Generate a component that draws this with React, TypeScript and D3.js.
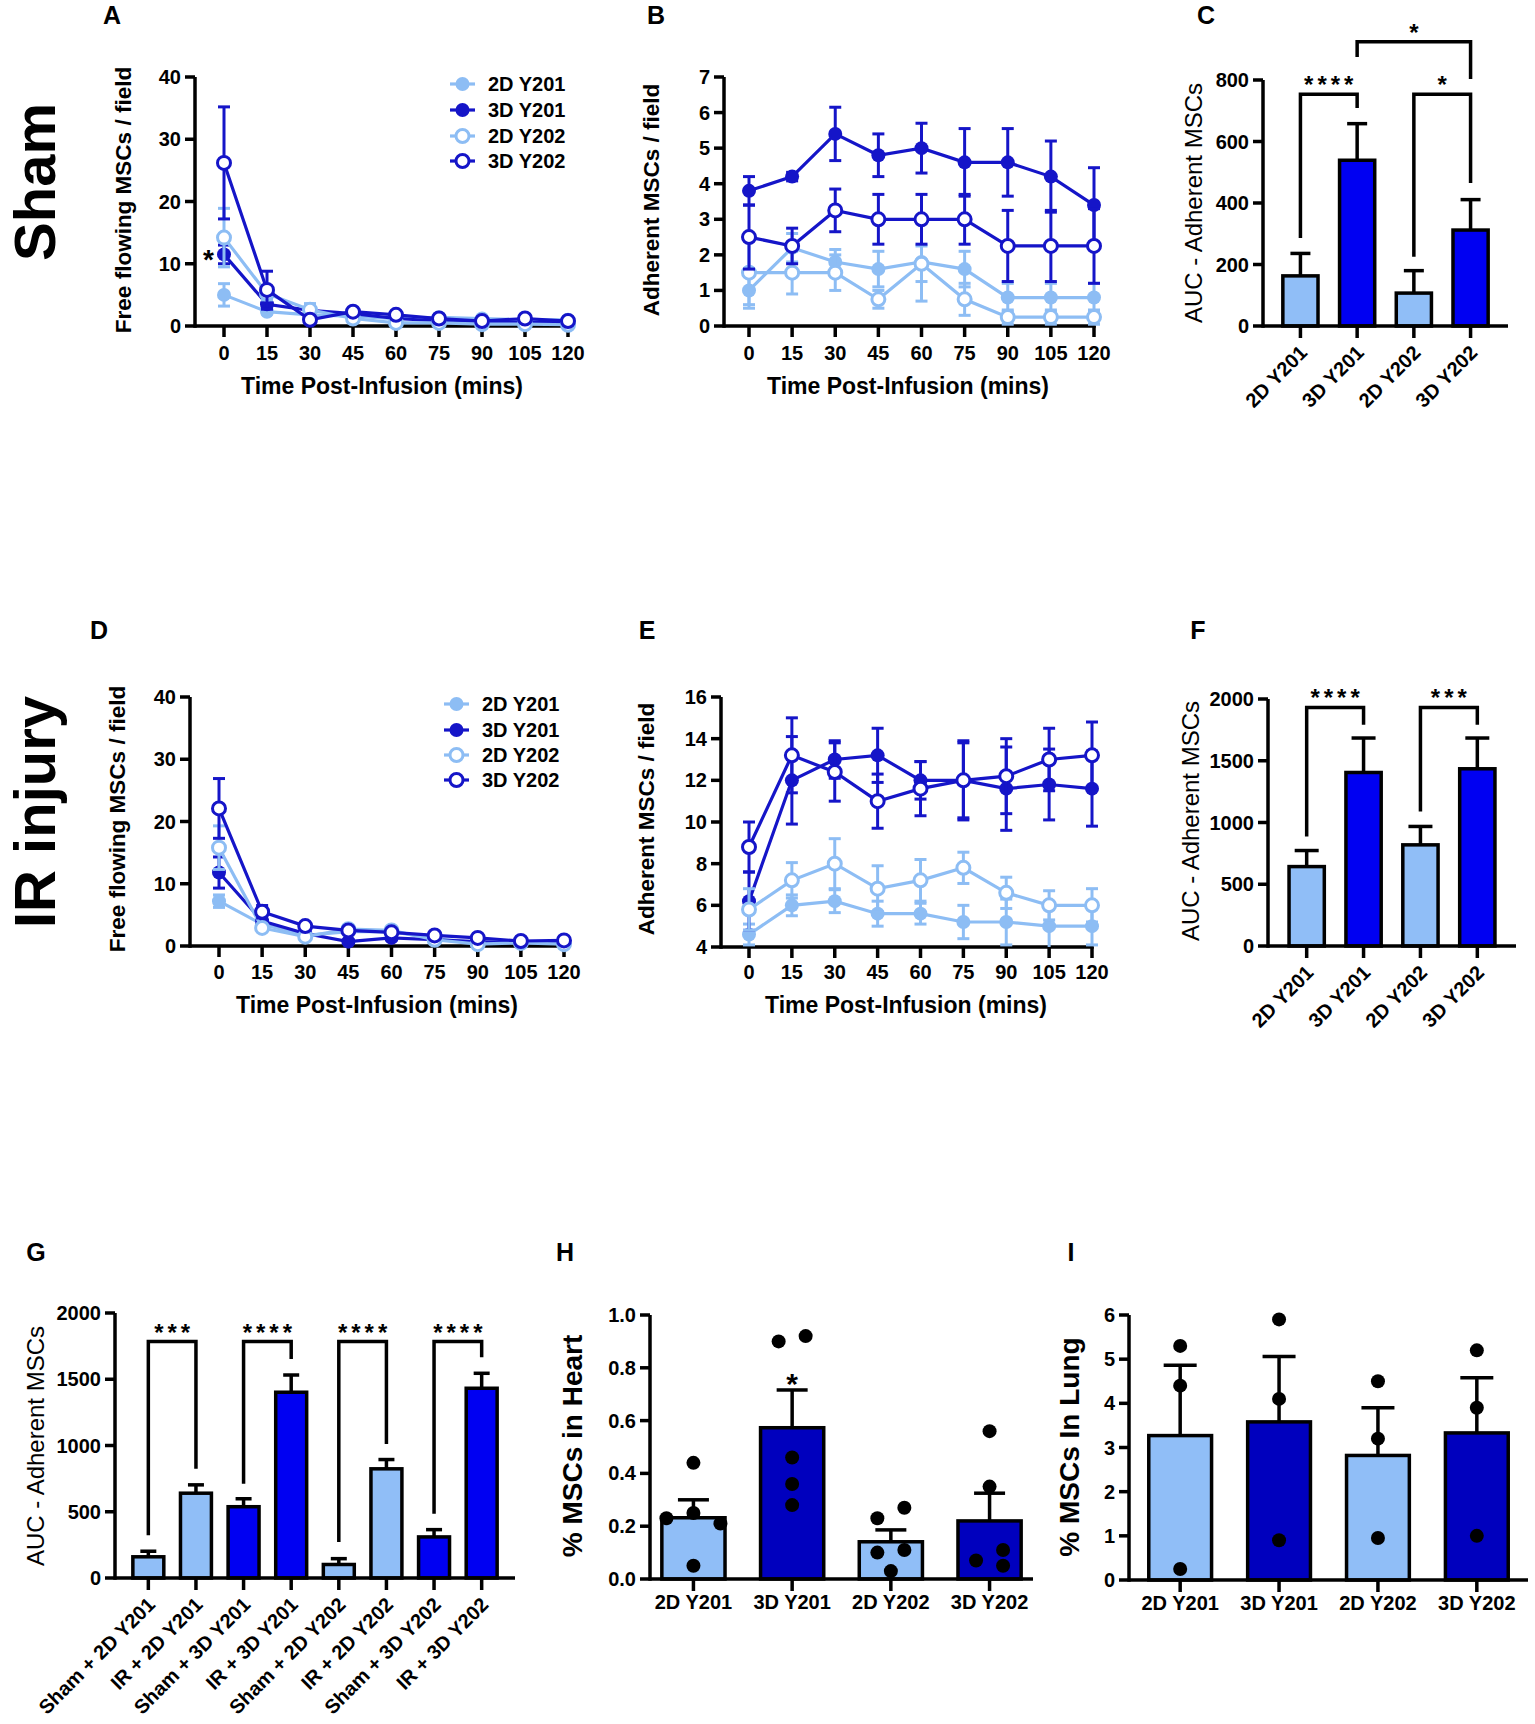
import * as d3 from "d3";

// ---------- data ----------
const times = [0, 15, 30, 45, 60, 75, 90, 105, 120];
const groups = ["2D Y201", "3D Y201", "2D Y202", "3D Y202"];

// A - sham, free flowing MSCs / field
const shamFree2D201 = [5.0, 2.3, 1.8, 1.6, 1.2, 1.4, 1.2, 1.0, 1.0];
const shamFree2D201Sem = [1.8, 0.4, 0.3, 0.3, 0.3, 0.3, 0.2, 0.2, 0.2];
const shamFree3D201 = [11.5, 3.5, 2.5, 2.0, 1.2, 0.8, 0.7, 0.6, 0.5];
const shamFree3D201Sem = [1.5, 0.8, 0.4, 0.3, 0.3, 0.2, 0.2, 0.2, 0.2];
const shamFree2D202 = [14.2, 5.2, 2.6, 1.2, 0.5, 0.5, 0.3, 0.3, 0.2];
const shamFree2D202Sem = [4.7, 1.0, 1.0, 0.4, 0.3, 0.3, 0.2, 0.2, 0.2];
const shamFree3D202 = [26.2, 5.8, 1.0, 2.3, 1.8, 1.2, 0.8, 1.2, 0.8];
const shamFree3D202Sem = [9.0, 3.0, 0.5, 0.4, 0.4, 0.3, 0.3, 0.3, 0.3];

// B - sham, adherent MSCs / field
const shamAdh2D201 = [1.0, 2.2, 1.8, 1.6, 1.8, 1.6, 0.8, 0.8, 0.8];
const shamAdh2D201Sem = [0.5, 0.4, 0.35, 0.5, 1.1, 0.5, 0.4, 0.4, 0.4];
const shamAdh3D201 = [3.8, 4.2, 5.4, 4.8, 5.0, 4.6, 4.6, 4.2, 3.4];
const shamAdh3D201Sem = [0.4, 0.12, 0.75, 0.6, 0.7, 0.95, 0.95, 1.0, 1.05];
const shamAdh2D202 = [1.5, 1.5, 1.5, 0.75, 1.75, 0.75, 0.25, 0.25, 0.25];
const shamAdh2D202Sem = [0.9, 0.6, 0.5, 0.25, 0.5, 0.45, 0.2, 0.2, 0.2];
const shamAdh3D202 = [2.5, 2.25, 3.25, 3.0, 3.0, 3.0, 2.25, 2.25, 2.25];
const shamAdh3D202Sem = [0.9, 0.5, 0.6, 0.7, 0.7, 0.7, 1.0, 1.0, 1.05];

// D - IR injury, free flowing
const irFree2D201 = [7.2, 3.5, 1.7, 2.3, 2.3, 1.2, 0.5, 0.8, 0.3];
const irFree2D201Sem = [1.0, 0.5, 0.3, 0.5, 0.4, 0.3, 0.2, 0.2, 0.2];
const irFree3D201 = [11.8, 4.0, 2.0, 0.7, 1.3, 1.0, 0.7, 0.5, 0.7];
const irFree3D201Sem = [2.5, 0.6, 0.3, 0.3, 0.3, 0.2, 0.2, 0.2, 0.2];
const irFree2D202 = [15.8, 2.9, 1.5, 2.7, 2.5, 1.0, 0.3, 0.5, 0.3];
const irFree2D202Sem = [3.5, 0.5, 0.3, 0.5, 0.4, 0.3, 0.2, 0.2, 0.2];
const irFree3D202 = [22.1, 5.5, 3.2, 2.5, 2.2, 1.7, 1.3, 0.8, 0.9];
const irFree3D202Sem = [4.8, 1.0, 0.4, 0.4, 0.3, 0.3, 0.3, 0.2, 0.2];

// E - IR injury, adherent
const irAdh2D201 = [4.6, 6.0, 6.2, 5.6, 5.6, 5.2, 5.2, 5.0, 5.0];
const irAdh2D201Sem = [0.5, 0.5, 0.55, 0.6, 0.5, 0.8, 1.1, 1.0, 0.9];
const irAdh3D201 = [6.2, 12.0, 13.0, 13.2, 12.0, 12.0, 11.6, 11.8, 11.6];
const irAdh3D201Sem = [1.4, 2.1, 0.9, 1.3, 0.9, 1.9, 2.0, 1.7, 1.8];
const irAdh2D202 = [5.8, 7.2, 8.0, 6.8, 7.2, 7.8, 6.6, 6.0, 6.0];
const irAdh2D202Sem = [1.0, 0.85, 1.2, 1.1, 1.0, 0.75, 0.75, 0.7, 0.8];
const irAdh3D202 = [8.8, 13.2, 12.4, 11.0, 11.6, 12.0, 12.2, 13.0, 13.2];
const irAdh3D202Sem = [1.2, 1.8, 1.4, 1.3, 1.3, 1.8, 1.8, 1.5, 1.6];

// C / F - AUC
const shamAuc = [163, 539, 107, 312];
const shamAucSem = [73, 119, 73, 99];
const irAuc = [643, 1405, 819, 1435];
const irAucSem = [130, 279, 149, 249];

// G - pooled AUC
const pooledLabels = [
  "Sham + 2D Y201", "IR + 2D Y201", "Sham + 3D Y201", "IR + 3D Y201",
  "Sham + 2D Y202", "IR + 2D Y202", "Sham + 3D Y202", "IR + 3D Y202",
];
const pooledAuc = [160, 640, 538, 1402, 102, 824, 310, 1432];
const pooledAucSem = [42, 63, 60, 130, 44, 70, 55, 113];

// H - % in heart
const heartMean = [0.232, 0.573, 0.141, 0.22];
const heartSem = [0.068, 0.143, 0.045, 0.105];
const heart2D201 = [0.44, 0.25, 0.23, 0.21, 0.05];
const heart3D201 = [0.92, 0.9, 0.46, 0.36, 0.28];
const heart2D202 = [0.27, 0.23, 0.11, 0.1, 0.03];
const heart3D202 = [0.56, 0.35, 0.11, 0.07, 0.05];

// I - % in lung
const lungMean = [3.27, 3.58, 2.82, 3.33];
const lungSem = [1.59, 1.48, 1.08, 1.25];
const lung2D201 = [5.3, 4.4, 0.25];
const lung3D201 = [5.9, 4.1, 0.9];
const lung2D202 = [4.5, 3.2, 0.95];
const lung3D202 = [5.2, 3.9, 1.0];

// significance brackets: [from, to, bracket value, left leg end, right leg end, label]
const shamBrackets: [number, number, number, number, number, string][] = [
  [0, 1, 754, 286, 709, "****"],
  [2, 3, 754, 225, 465, "*"],
  [1, 3, 924, 875, 803, "*"],
];
const irBrackets: [number, number, number, number, number, string][] = [
  [0, 1, 1932, 886, 1792, "****"],
  [2, 3, 1932, 1089, 1792, "***"],
];
const pooledBrackets: [number, number, number, number, number, string][] = [
  [0, 1, 1784, 322, 824, "***"],
  [2, 3, 1784, 711, 1653, "****"],
  [4, 5, 1784, 271, 1012, "****"],
  [6, 7, 1784, 485, 1666, "****"],
];

// ---------- styles ----------
const FONT = "'Liberation Sans', Arial, Helvetica, sans-serif";
const LIGHT = "#8DBDF4";
const DARK = "#1515C8";
const BAR_LIGHT = "#90BEF7";
const BAR_BLUE = "#0000F2";
const BAR_NAVY = "#0000BE";
const AXW = 3.5;

type Series = { mean: number[]; sem: number[]; color: string; open: boolean };

const styleOf = (i: number) => ({ color: i % 2 === 0 ? LIGHT : DARK, open: i >= 2 });

const mk = (pairs: [number[], number[]][]): Series[] =>
  pairs.map(([mean, sem], i) => ({ mean, sem, ...styleOf(i) }));

type LineGeo = {
  axisX: number; x0: number; x1: number; yBottom: number; yTop: number;
  domain: [number, number]; ticks: number[];
  tickBase: number; titleBase: number; titleX: number; yTitleX: number; yTitleY: number;
};

function Marker({ cx, cy, color, open }: { cx: number; cy: number; color: string; open: boolean }) {
  return open ? (
    <circle cx={cx} cy={cy} r={6.5} fill="#fff" stroke={color} strokeWidth={3} />
  ) : (
    <circle cx={cx} cy={cy} r={7} fill={color} />
  );
}

function LinePanel({ g, series, yTitle, legend, star }: {
  g: LineGeo; series: Series[]; yTitle: string;
  legend?: { x: number; rows: number[] }; star?: number;
}) {
  const x = d3.scaleLinear().domain([0, 120]).range([g.x0, g.x1]);
  const y = d3.scaleLinear().domain(g.domain).range([g.yBottom, g.yTop]);
  const line = d3.line<number>().x((_, i) => x(times[i])).y((d) => y(d));
  const cap = 6;
  return (
    <g>
      {/* axes */}
      <line x1={g.axisX} x2={g.axisX} y1={g.yTop} y2={g.yBottom + AXW / 2} stroke="#000" strokeWidth={AXW} />
      <line x1={g.axisX} x2={g.x1 + AXW / 2} y1={g.yBottom} y2={g.yBottom} stroke="#000" strokeWidth={AXW} />
      {g.ticks.map((t) => (
        <g key={t}>
          <line x1={g.axisX - 10} x2={g.axisX} y1={y(t)} y2={y(t)} stroke="#000" strokeWidth={AXW} />
          <text x={g.axisX - 14} y={y(t)} dominantBaseline="central" textAnchor="end" fontSize={20} fontWeight="bold">{t}</text>
        </g>
      ))}
      {times.map((t) => (
        <g key={t}>
          <line x1={x(t)} x2={x(t)} y1={g.yBottom} y2={g.yBottom + 11} stroke="#000" strokeWidth={AXW} />
          <text x={x(t)} y={g.tickBase} textAnchor="middle" fontSize={20} fontWeight="bold">{t}</text>
        </g>
      ))}
      <text x={g.titleX} y={g.titleBase} textAnchor="middle" fontSize={23} fontWeight="bold">Time Post-Infusion (mins)</text>
      <text transform={`translate(${g.yTitleX},${g.yTitleY}) rotate(-90)`} textAnchor="middle" dominantBaseline="central" fontSize={22.5} fontWeight="bold">{yTitle}</text>
      {/* series */}
      {series.map((s, si) => (
        <g key={si}>
          {s.mean.map((m, i) => {
            const lo = y(Math.max(g.domain[0], m - s.sem[i]));
            const hi = y(m + s.sem[i]);
            const cx = x(times[i]);
            return (
              <g key={i} stroke={s.color} strokeWidth={3}>
                <line x1={cx} x2={cx} y1={lo} y2={hi} />
                <line x1={cx - cap} x2={cx + cap} y1={hi} y2={hi} />
                {m - s.sem[i] > g.domain[0] && <line x1={cx - cap} x2={cx + cap} y1={lo} y2={lo} />}
              </g>
            );
          })}
          <path d={line(s.mean) ?? ""} fill="none" stroke={s.color} strokeWidth={3.2} />
          {s.mean.map((m, i) => (
            <Marker key={i} cx={x(times[i])} cy={y(m)} color={s.color} open={s.open} />
          ))}
        </g>
      ))}
      {star !== undefined && (
        <text x={x(0) - 10} y={y(star) + 15} textAnchor="end" fontSize={28} fontWeight="bold">*</text>
      )}
      {legend && series.map((s, i) => (
        <g key={i}>
          <line x1={legend.x} x2={legend.x + 25} y1={legend.rows[i]} y2={legend.rows[i]} stroke={s.color} strokeWidth={3.2} />
          <Marker cx={legend.x + 12.5} cy={legend.rows[i]} color={s.color} open={s.open} />
          <text x={legend.x + 38} y={legend.rows[i]} dominantBaseline="central" fontSize={20} fontWeight="bold">{groups[i]}</text>
        </g>
      ))}
    </g>
  );
}

type BarGeo = {
  axisX: number; xEnd: number; yBottom: number; yTop: number; yMax: number; ticks: number[];
  pInner: number; pOuter: number; yTitleX: number; yTitleY: number;
};

function placeDots(vals: number[], y: (v: number) => number, r: number, step: number) {
  const order = vals.map((_, i) => i).sort((a, b) => vals[b] - vals[a]);
  const placed: { dx: number; py: number }[] = [];
  const cands = [0, -step, step, -2 * step, 2 * step];
  for (const i of order) {
    const py = y(vals[i]);
    const dx = cands.find((c) => placed.every((p) => Math.hypot(p.dx - c, p.py - py) >= 2 * r)) ?? 0;
    placed.push({ dx, py });
  }
  // centre each cluster of overlapping rows
  const sorted = [...placed].sort((a, b) => a.py - b.py);
  let cluster: typeof placed = [];
  const flush = () => {
    if (cluster.length) {
      const mid = (d3.min(cluster, (p) => p.dx)! + d3.max(cluster, (p) => p.dx)!) / 2;
      cluster.forEach((p) => (p.dx -= mid));
    }
    cluster = [];
  };
  sorted.forEach((p) => {
    if (cluster.length && p.py - cluster[cluster.length - 1].py >= 2 * r) flush();
    cluster.push(p);
  });
  flush();
  return placed;
}

function BarPanel({ g, cats, values, sems, fills, fmt, yTitle, titleBold, titleSize, rotate, capW, brackets, dots, star }: {
  g: BarGeo; cats: string[]; values: number[]; sems: number[]; fills: string[];
  fmt: (v: number) => string; yTitle: string; titleBold: boolean; titleSize: number;
  rotate: boolean; capW: number;
  brackets?: [number, number, number, number, number, string][];
  dots?: number[][]; star?: number;
}) {
  const x = d3.scaleBand().domain(cats).range([g.axisX, g.xEnd]).paddingInner(g.pInner).paddingOuter(g.pOuter);
  const y = d3.scaleLinear().domain([0, g.yMax]).range([g.yBottom, g.yTop]);
  const cx = (i: number) => x(cats[i])! + x.bandwidth() / 2;
  return (
    <g>
      {values.map((v, i) => (
        <rect key={i} x={x(cats[i])} y={y(v)} width={x.bandwidth()} height={y(0) - y(v)} fill={fills[i]} stroke="#000" strokeWidth={AXW} />
      ))}
      {values.map((v, i) => (
        <g key={i} stroke="#000" strokeWidth={AXW}>
          <line x1={cx(i)} x2={cx(i)} y1={y(v)} y2={y(v + sems[i])} />
          <line x1={cx(i) - capW / 2} x2={cx(i) + capW / 2} y1={y(v + sems[i])} y2={y(v + sems[i])} />
        </g>
      ))}
      {dots && dots.map((vals, i) =>
        placeDots(vals, y, 7, 27).map((p, j) => <circle key={`${i}-${j}`} cx={cx(i) + p.dx} cy={p.py} r={7} fill="#000" />)
      )}
      {/* axes */}
      <line x1={g.axisX} x2={g.axisX} y1={g.yTop} y2={g.yBottom + AXW / 2} stroke="#000" strokeWidth={AXW} />
      <line x1={g.axisX} x2={g.xEnd} y1={g.yBottom} y2={g.yBottom} stroke="#000" strokeWidth={AXW} />
      {g.ticks.map((t) => (
        <g key={t}>
          <line x1={g.axisX - 10} x2={g.axisX} y1={y(t)} y2={y(t)} stroke="#000" strokeWidth={AXW} />
          <text x={g.axisX - 14} y={y(t)} dominantBaseline="central" textAnchor="end" fontSize={20} fontWeight="bold">{fmt(t)}</text>
        </g>
      ))}
      {cats.map((c, i) => (
        <g key={c}>
          <line x1={cx(i)} x2={cx(i)} y1={g.yBottom} y2={g.yBottom + 12} stroke="#000" strokeWidth={AXW} />
          {rotate ? (
            <text transform={`translate(${cx(i) + 8},${g.yBottom + 28}) rotate(-45)`} textAnchor="end" fontSize={20} fontWeight="bold">{c}</text>
          ) : (
            <text x={cx(i)} y={g.yBottom + 30} textAnchor="middle" fontSize={20} fontWeight="bold">{c}</text>
          )}
        </g>
      ))}
      <text transform={`translate(${g.yTitleX},${g.yTitleY}) rotate(-90)`} textAnchor="middle" dominantBaseline="central"
        fontSize={titleSize} fontWeight={titleBold ? "bold" : "normal"}>{yTitle}</text>
      {brackets && brackets.map(([a, b, top, l, r, lab], k) => (
        <g key={k}>
          <path d={`M${cx(a)},${y(l)}V${y(top)}H${cx(b)}V${y(r)}`} fill="none" stroke="#000" strokeWidth={AXW} />
          <text x={(cx(a) + cx(b)) / 2 + 2} y={y(top) - 1} textAnchor="middle" fontSize={24} fontWeight="bold" letterSpacing={4}>{lab}</text>
        </g>
      ))}
      {star !== undefined && (
        <text x={cx(star)} y={y(values[star] + sems[star]) + 4} textAnchor="middle" fontSize={30} fontWeight="bold">*</text>
      )}
    </g>
  );
}

// ---------- layout ----------
const geoA: LineGeo = { axisX: 195, x0: 224, x1: 568, yBottom: 326, yTop: 77, domain: [0, 40], ticks: [0, 10, 20, 30, 40], tickBase: 360, titleBase: 394, titleX: 382, yTitleX: 123, yTitleY: 200 };
const geoB: LineGeo = { axisX: 724, x0: 749, x1: 1094, yBottom: 326, yTop: 77, domain: [0, 7], ticks: [0, 1, 2, 3, 4, 5, 6, 7], tickBase: 360, titleBase: 394, titleX: 908, yTitleX: 651, yTitleY: 200 };
const geoD: LineGeo = { axisX: 190, x0: 219, x1: 564, yBottom: 946, yTop: 697, domain: [0, 40], ticks: [0, 10, 20, 30, 40], tickBase: 979, titleBase: 1013, titleX: 377, yTitleX: 117, yTitleY: 819 };
const geoE: LineGeo = { axisX: 721, x0: 749, x1: 1092, yBottom: 947, yTop: 697, domain: [4, 16], ticks: [4, 6, 8, 10, 12, 14, 16], tickBase: 979, titleBase: 1013, titleX: 906, yTitleX: 646, yTitleY: 819 };

const geoC: BarGeo = { axisX: 1263, xEnd: 1508, yBottom: 326, yTop: 80, yMax: 800, ticks: [0, 200, 400, 600, 800], pInner: 0.38, pOuter: 0.35, yTitleX: 1193, yTitleY: 203 };
const geoF: BarGeo = { axisX: 1268, xEnd: 1516, yBottom: 946, yTop: 699, yMax: 2000, ticks: [0, 500, 1000, 1500, 2000], pInner: 0.38, pOuter: 0.37, yTitleX: 1190, yTitleY: 821 };
const geoG: BarGeo = { axisX: 115, xEnd: 515, yBottom: 1578, yTop: 1313, yMax: 2000, ticks: [0, 500, 1000, 1500, 2000], pInner: 0.35, pOuter: 0.375, yTitleX: 35, yTitleY: 1446 };
const geoH: BarGeo = { axisX: 650, xEnd: 1033, yBottom: 1579, yTop: 1315, yMax: 1.0, ticks: [0, 0.2, 0.4, 0.6, 0.8, 1.0], pInner: 0.36, pOuter: 0.12, yTitleX: 572, yTitleY: 1446 };
const geoI: BarGeo = { axisX: 1129, xEnd: 1528, yBottom: 1580, yTop: 1315, yMax: 6, ticks: [0, 1, 2, 3, 4, 5, 6], pInner: 0.365, pOuter: 0.2, yTitleX: 1069, yTitleY: 1447 };

const panelLetters: [string, number, number][] = [
  ["A", 112, 15], ["B", 656, 15], ["C", 1206, 15],
  ["D", 99, 630], ["E", 647, 630], ["F", 1198, 630],
  ["G", 36, 1252], ["H", 565, 1252], ["I", 1071, 1252],
];

export default function App() {
  const seriesA = mk([[shamFree2D201, shamFree2D201Sem], [shamFree3D201, shamFree3D201Sem], [shamFree2D202, shamFree2D202Sem], [shamFree3D202, shamFree3D202Sem]]);
  const seriesB = mk([[shamAdh2D201, shamAdh2D201Sem], [shamAdh3D201, shamAdh3D201Sem], [shamAdh2D202, shamAdh2D202Sem], [shamAdh3D202, shamAdh3D202Sem]]);
  const seriesD = mk([[irFree2D201, irFree2D201Sem], [irFree3D201, irFree3D201Sem], [irFree2D202, irFree2D202Sem], [irFree3D202, irFree3D202Sem]]);
  const seriesE = mk([[irAdh2D201, irAdh2D201Sem], [irAdh3D201, irAdh3D201Sem], [irAdh2D202, irAdh2D202Sem], [irAdh3D202, irAdh3D202Sem]]);
  const fills4 = [BAR_LIGHT, BAR_BLUE, BAR_LIGHT, BAR_BLUE];
  const fills8 = [BAR_LIGHT, BAR_LIGHT, BAR_BLUE, BAR_BLUE, BAR_LIGHT, BAR_LIGHT, BAR_BLUE, BAR_BLUE];
  const fillsNavy = [BAR_LIGHT, BAR_NAVY, BAR_LIGHT, BAR_NAVY];
  const intFmt = d3.format("d");
  return (
    <>
      <style>{"body{margin:0;background:#fff}"}</style>
      <svg width={1535} height={1724} fontFamily={FONT} style={{ display: "block", background: "#fff" }}>
        {panelLetters.map(([l, x, y]) => (
          <text key={l} x={x} y={y} textAnchor="middle" dominantBaseline="central" fontSize={25} fontWeight="bold">{l}</text>
        ))}
        <text transform="translate(34,182) rotate(-90)" textAnchor="middle" dominantBaseline="central" fontSize={58} fontWeight="bold">Sham</text>
        <text transform="translate(34,812) rotate(-90)" textAnchor="middle" dominantBaseline="central" fontSize={58} fontWeight="bold">IR injury</text>

        <LinePanel g={geoA} series={seriesA} yTitle="Free flowing MSCs / field" legend={{ x: 450, rows: [84, 110, 136, 161] }} star={shamFree3D201[0]} />
        <LinePanel g={geoB} series={seriesB} yTitle="Adherent MSCs / field" />
        <BarPanel g={geoC} cats={groups} values={shamAuc} sems={shamAucSem} fills={fills4} fmt={intFmt}
          yTitle="AUC - Adherent MSCs" titleBold={false} titleSize={24} rotate capW={20} brackets={shamBrackets} />

        <LinePanel g={geoD} series={seriesD} yTitle="Free flowing MSCs / field" legend={{ x: 444, rows: [704, 730, 755, 780] }} />
        <LinePanel g={geoE} series={seriesE} yTitle="Adherent MSCs / field" />
        <BarPanel g={geoF} cats={groups} values={irAuc} sems={irAucSem} fills={fills4} fmt={intFmt}
          yTitle="AUC - Adherent MSCs" titleBold={false} titleSize={24} rotate capW={24} brackets={irBrackets} />

        <BarPanel g={geoG} cats={pooledLabels} values={pooledAuc} sems={pooledAucSem} fills={fills8} fmt={intFmt}
          yTitle="AUC - Adherent MSCs" titleBold={false} titleSize={24} rotate capW={16} brackets={pooledBrackets} />
        <BarPanel g={geoH} cats={groups} values={heartMean} sems={heartSem} fills={fillsNavy} fmt={d3.format(".1f")}
          yTitle="% MSCs in Heart" titleBold titleSize={28} rotate={false} capW={31}
          dots={[heart2D201, heart3D201, heart2D202, heart3D202]} star={1} />
        <BarPanel g={geoI} cats={groups} values={lungMean} sems={lungSem} fills={fillsNavy} fmt={intFmt}
          yTitle="% MSCs In Lung" titleBold titleSize={28} rotate={false} capW={33}
          dots={[lung2D201, lung3D201, lung2D202, lung3D202]} />
      </svg>
    </>
  );
}
